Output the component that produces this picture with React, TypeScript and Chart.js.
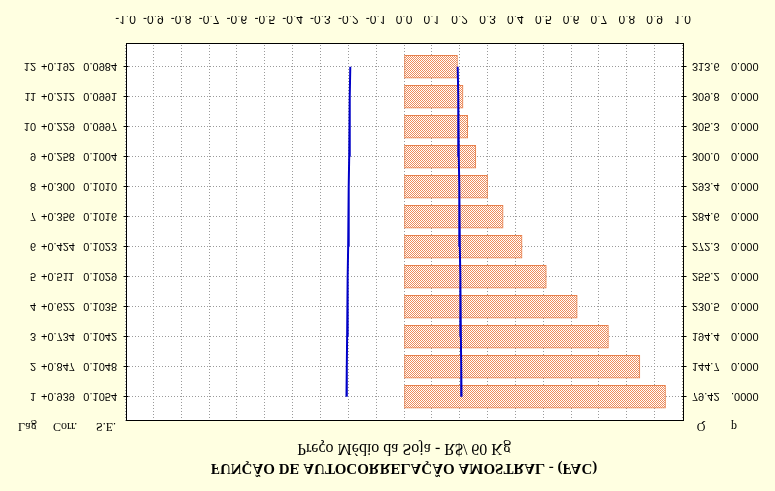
import React, { useEffect, useRef } from 'react';
import { Chart, registerables } from 'chart.js';

Chart.register(...registerables);

// ---- data (Statistica ACF output) ----
const lags = [1, 2, 3, 4, 5, 6, 7, 8, 9, 10, 11, 12];
const corr = [0.939, 0.847, 0.734, 0.622, 0.511, 0.424, 0.356, 0.3, 0.258, 0.229, 0.212, 0.192];
const stdErr = [0.1054, 0.1048, 0.1042, 0.1035, 0.1029, 0.1023, 0.1016, 0.101, 0.1004, 0.0997, 0.0991, 0.0984];
const qStat = [79.42, 144.7, 194.4, 230.5, 255.2, 272.3, 284.6, 293.4, 300.0, 305.3, 309.8, 313.6];
const pLabels = ['.0000', '0.000', '0.000', '0.000', '0.000', '0.000', '0.000', '0.000', '0.000', '0.000', '0.000', '0.000'];
const xTicks = [-1.0, -0.9, -0.8, -0.7, -0.6, -0.5, -0.4, -0.3, -0.2, -0.1, 0.0, 0.1, 0.2, 0.3, 0.4, 0.5, 0.6, 0.7, 0.8, 0.9, 1.0];
const zCrit = 1.96;

const TITLE = 'FUNÇÃO DE AUTOCORRELAÇÃO AMOSTRAL - (FAC)';
const SUBTITLE = 'Preço Médio da Soja - R$/ 60 Kg';

const SANS = '"Liberation Sans", Arial, sans-serif';
const SERIF = '"Liberation Serif", "Times New Roman", serif';

function makePattern(): CanvasPattern | string {
  const c = document.createElement('canvas');
  c.width = 2;
  c.height = 2;
  const g = c.getContext('2d');
  if (!g) return '#F2B08E';
  g.fillStyle = '#FFFFFF';
  g.fillRect(0, 0, 2, 2);
  g.fillStyle = '#EE8C5C';
  g.fillRect(0, 0, 1, 1);
  g.fillRect(1, 1, 1, 1);
  const p = g.createPattern(c, 'repeat');
  return p || '#F2B08E';
}

const tablePlugin = {
  id: 'acfTable',
  beforeDraw(chart: any) {
    const { ctx, chartArea: a } = chart;
    ctx.save();
    ctx.fillStyle = '#FFFFFF';
    ctx.fillRect(a.left, a.top, a.right - a.left, a.bottom - a.top);
    ctx.restore();
  },
  afterDraw(chart: any) {
    const { ctx, chartArea: a, scales } = chart;
    const ys = scales.y;
    ctx.save();
    // frame
    ctx.strokeStyle = '#000000';
    ctx.lineWidth = 1;
    const L = Math.round(a.left) + 0.5;
    const R = Math.round(a.right) + 0.5;
    const T = Math.round(a.top) + 0.5;
    const B = Math.round(a.bottom) + 0.5;
    ctx.strokeRect(L, T, R - L, B - T);
    // side ticks
    ctx.beginPath();
    lags.forEach((l) => {
      const py = Math.round(ys.getPixelForValue(l)) + 0.5;
      ctx.moveTo(L - 3, py);
      ctx.lineTo(L + 2, py);
      ctx.moveTo(R - 2, py);
      ctx.lineTo(R + 3, py);
    });
    ctx.stroke();

    ctx.fillStyle = '#000000';
    const cx = (a.left + a.right) / 2;
    ctx.textAlign = 'center';
    ctx.textBaseline = 'middle';
    ctx.font = 'bold 15px ' + SERIF;
    ctx.fillText(TITLE, cx, 23);
    ctx.font = '16px ' + SERIF;
    ctx.fillText(SUBTITLE, cx, 43);

    // table rows
    ctx.font = '11px ' + SANS;
    lags.forEach((l, i) => {
      const py = ys.getPixelForValue(l) + 0.5;
      ctx.textAlign = 'right';
      ctx.fillText(String(l), 36, py);
      ctx.textAlign = 'left';
      ctx.fillText('+' + corr[i].toFixed(3), 41, py);
      ctx.textAlign = 'right';
      ctx.fillText(stdErr[i].toFixed(4), 117, py);
      ctx.textAlign = 'left';
      ctx.fillText(qStat[i].toPrecision(4), 692, py);
      ctx.fillText(pLabels[i], 731, py);
    });

    // headers
    const hy = a.top - 5;
    ctx.font = '12px ' + SERIF;
    ctx.textAlign = 'left';
    ctx.fillText('Lag', 18, hy);
    ctx.fillText('Corr.', 53, hy);
    ctx.fillText('S.E.', 96, hy);
    ctx.textAlign = 'center';
    ctx.fillText('Q', 701, hy);
    ctx.fillText('p', 734, hy);
    ctx.restore();
  },
};

export default function App() {
  const ref = useRef<HTMLCanvasElement | null>(null);

  useEffect(() => {
    if (!ref.current) return;
    const pattern = makePattern();
    const chart = new Chart(ref.current, {
      type: 'bar',
      data: {
        datasets: [
          {
            type: 'line',
            label: 'upper',
            indexAxis: 'y',
            data: lags.map((l, i) => ({ x: zCrit * stdErr[i], y: l })),
            borderColor: '#0000C8',
            borderWidth: 2,
            pointRadius: 0,
            fill: false,
            tension: 0,
            order: 0,
          } as any,
          {
            type: 'line',
            label: 'lower',
            indexAxis: 'y',
            data: lags.map((l, i) => ({ x: -zCrit * stdErr[i], y: l })),
            borderColor: '#0000C8',
            borderWidth: 2,
            pointRadius: 0,
            fill: false,
            tension: 0,
            order: 0,
          } as any,
          {
            type: 'bar',
            label: 'Corr.',
            indexAxis: 'y',
            data: lags.map((l, i) => ({ x: corr[i], y: l })),
            backgroundColor: pattern as any,
            borderColor: '#E8804C',
            borderWidth: 1,
            borderSkipped: false,
            barThickness: 23,
            order: 1,
          } as any,
        ],
      },
      options: {
        indexAxis: 'y',
        responsive: false,
        animation: false,
        layout: { padding: { left: 125.5, right: 92.5, top: 70, bottom: 16 } },
        plugins: {
          legend: { display: false },
          tooltip: { enabled: false },
          title: { display: false },
        },
        scales: {
          x: {
            type: 'linear',
            position: 'bottom',
            min: -1,
            max: 1,
            offset: false,
            afterBuildTicks: (s: any) => {
              s.ticks = xTicks.map((v) => ({ value: v }));
            },
            afterFit: (s: any) => {
              s.height = 28;
            },
            ticks: {
              autoSkip: false,
              maxRotation: 0,
              padding: 18,
              color: '#000000',
              font: { family: SANS, size: 12 },
              callback: (v: any) => Number(v).toFixed(1),
            },
            grid: { color: '#9A9A9A', lineWidth: 1, drawTicks: false, offset: false },
            border: { display: false, dash: [1, 2] },
          },
          y: {
            type: 'linear',
            reverse: true,
            min: 0.19,
            max: 12.76,
            offset: false,
            afterBuildTicks: (s: any) => {
              s.ticks = lags.map((v) => ({ value: v }));
            },
            afterFit: (s: any) => {
              s.width = 0;
            },
            ticks: { display: false },
            grid: { color: '#9A9A9A', lineWidth: 1, drawTicks: false, offset: false },
            border: { display: false, dash: [1, 2] },
          },
        },
      },
      plugins: [tablePlugin],
    } as any);
    return () => chart.destroy();
  }, []);

  return (
    <div
      style={{
        position: 'fixed',
        left: 0,
        top: 0,
        width: 775,
        height: 491,
        background: '#FFFFE1',
        overflow: 'hidden',
      }}
    >
      <canvas
        ref={ref}
        width={775}
        height={491}
        style={{ display: 'block', width: 775, height: 491, transform: 'scaleY(-1)' }}
      />
    </div>
  );
}
